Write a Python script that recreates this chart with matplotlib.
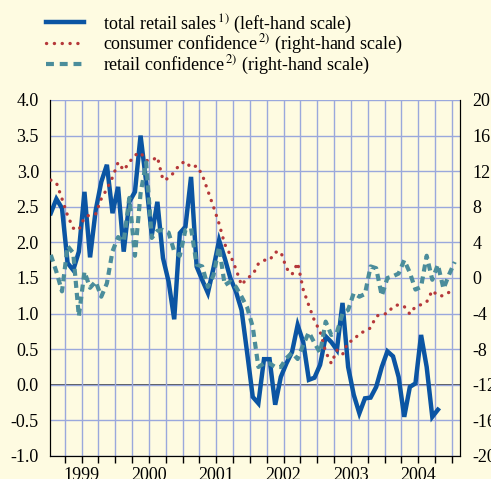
import numpy as np
import matplotlib
matplotlib.use("Agg")
import matplotlib.pyplot as plt
from matplotlib.lines import Line2D

# monthly values, first point = Jan 1999
retail_sales = [2.41, 2.61, 2.48, 1.71, 1.61, 1.87, 2.71, 1.79, 2.45, 2.85,
                3.09, 2.41, 2.78, 1.87, 2.57, 2.71, 3.50, 2.85, 2.10, 2.57,
                1.78, 1.45, 0.92, 2.13, 2.22, 2.92, 1.66, 1.47, 1.29, 1.64,
                2.03, 1.78, 1.50, 1.31, 1.05, 0.45, -0.17, -0.26, 0.36, 0.36,
                -0.28, 0.11, 0.30, 0.46, 0.84, 0.60, 0.07, 0.10, 0.28, 0.68,
                0.60, 0.49, 1.15, 0.25, -0.14, -0.40, -0.19, -0.18, -0.03, 0.25,
                0.47, 0.40, 0.11, -0.45, -0.03, 0.02, 0.70, 0.25, -0.45, -0.35]

consumer_conf = [11.0, 10.7, 8.9, 7.0, 5.6, 5.4, 6.8, 7.1, 7.2, 8.9,
                 10.0, 11.3, 13.0, 12.1, 13.0, 13.8, 14.1, 13.2, 13.2, 13.6,
                 11.0, 11.2, 11.9, 12.8, 13.1, 12.4, 12.6, 11.6, 9.8, 8.0,
                 6.1, 3.8, 2.6, 1.0, -0.8, 0.0, 0.35, 1.6, 2.0, 2.0,
                 2.9, 2.95, 1.1, 0.4, 1.7, -1.3, -3.1, -4.8, -6.0, -8.3,
                 -9.6, -8.1, -8.6, -7.2, -7.0, -6.2, -6.0, -5.6, -4.3, -4.05,
                 -4.0, -3.2, -3.0, -3.2, -4.05, -3.2, -3.0, -2.7, -1.4, -2.0,
                 -2.0, -1.6, -1.3]

retail_conf = [2.6, 0.7, -1.5, 3.6, 2.8, -4.3, 0.7, -1.1, -0.4, -2.1,
               -0.6, 3.0, 4.6, 4.1, 9.0, 2.5, 9.5, 13.0, 4.5, 5.3,
               5.4, 5.1, 3.0, 2.5, 5.4, 5.6, 1.5, 1.3, -1.0, 0.3,
               3.5, -0.8, -0.4, -1.0, -2.1, -3.3, -5.5, -10.0, -9.6, -9.6,
               -10.0, -10.0, -9.0, -8.4, -9.1, -7.5, -6.1, -7.3, -8.4, -4.9,
               -6.4, -6.1, -4.0, -3.6, -1.7, -2.1, -1.8, 1.3, 1.1, -2.0,
               0.0, 0.2, 0.5, 2.0, 0.6, -1.3, -1.0, 2.5, -0.2, 1.5,
               -1.2, 0.4, 1.8]

years = [1999, 2000, 2001, 2002, 2003, 2004]

labels = ["total retail sales$^{\\,1)}$ (left-hand scale)",
          "consumer confidence$^{\\,2)}$ (right-hand scale)",
          "retail confidence$^{\\,2)}$ (right-hand scale)"]

cream = "#FEFBE1"
blue = "#0B55A3"
red = "#B5383A"
teal = "#4B8D9B"
gridc = "#9AA8DC"

plt.rcParams["font.family"] = ["Liberation Serif", "DejaVu Serif"]
plt.rcParams["mathtext.fontset"] = "stix"
plt.rcParams["axes.unicode_minus"] = False
plt.rcParams["font.size"] = 13


def months(n):
    return 1999 + (np.arange(n) + 0.5) / 12


fig = plt.figure(figsize=(4.91, 4.79), dpi=100, facecolor=cream)
ax = fig.add_axes([50 / 491, 1 - 456 / 479, 410 / 491, 356 / 479])
ax.set_facecolor(cream)
ax2 = ax.twinx()

ax.set_xlim(1999.03, 2005.12)
ax.set_ylim(-1.0, 4.0)
ax2.set_ylim(-20, 20)

quarters = np.arange(1999.25, 2005.01, 0.25)
ax.xaxis.remove_overlapping_locs = False
ax.set_xticks(quarters)
ax.set_xticklabels([])
ax.set_xticks([y + 0.5 for y in years], minor=True)
ax.set_xticklabels([str(y) for y in years], minor=True)
ax.tick_params(axis="x", which="major", direction="out", length=5, width=1, color="black")
ax.tick_params(axis="x", which="minor", length=0, pad=8)

ax.set_yticks(np.arange(-1.0, 4.01, 0.5))
ax.set_yticklabels([f"{v:.1f}" for v in np.arange(-1.0, 4.01, 0.5)])
ax.tick_params(axis="y", length=0, pad=8)
ax2.set_yticks(np.arange(-20, 21, 4))
ax2.tick_params(axis="y", length=0, pad=9)

ax.grid(True, which="major", color=gridc, linewidth=1.0)
ax.axhline(0, color="#333333", linewidth=1.2, zorder=1.5)

for a in (ax, ax2):
    a.spines["top"].set_visible(False)
    a.spines["left"].set_color("black")
    a.spines["right"].set_color("black")
    a.spines["bottom"].set_color("black")

ax.plot(months(len(retail_sales)), retail_sales, color=blue, linewidth=3.2,
        solid_joinstyle="miter", zorder=3)
ax2.plot(months(len(consumer_conf)), consumer_conf, color=red, linewidth=2.4,
         linestyle=(0, (0.05, 2.3)), dash_capstyle="round", zorder=3)
ax2.plot(months(len(retail_conf)), retail_conf, color=teal, linewidth=3.0,
         linestyle=(0, (1.7, 1.2)), dash_capstyle="butt", zorder=3)

handles = [Line2D([], [], color=blue, linewidth=3.2),
           Line2D([], [], color=red, linewidth=2.4, linestyle=(0, (0.05, 2.3)),
                  dash_capstyle="round"),
           Line2D([], [], color=teal, linewidth=3.0, linestyle=(0, (1.9, 1.4)))]
fig.legend(handles, labels, loc="upper left", bbox_to_anchor=(46 / 491, 1 - 12 / 479),
           frameon=False, handlelength=2.1, handletextpad=1.05, labelspacing=-0.1,
           borderpad=0, borderaxespad=0, fontsize=13)

fig.savefig("out.png", dpi=100, facecolor=cream)
